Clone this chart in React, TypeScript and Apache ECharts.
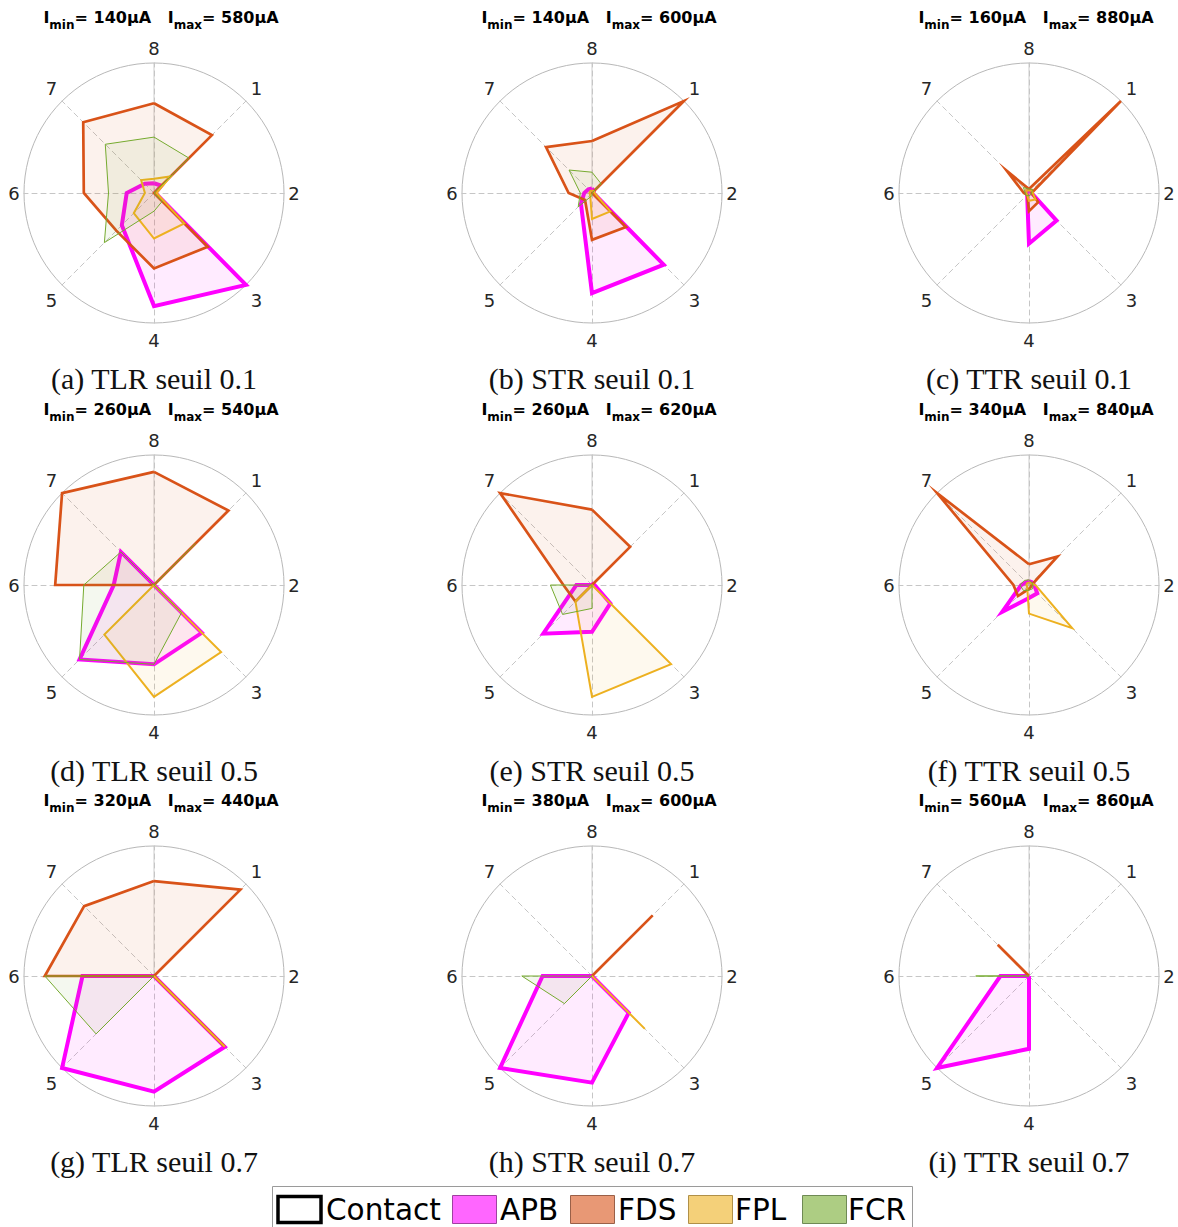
import React, { useEffect, useRef } from 'react';
import * as echarts from 'echarts';

// Axis labels (electrode positions) in natural order 1..8
const AXIS_LABELS = ['1', '2', '3', '4', '5', '6', '7', '8'];
// ECharts radar runs counter-clockwise from the top: 8, 7, 6, 5, 4, 3, 2, 1
const AXIS_ORDER = [7, 6, 5, 4, 3, 2, 1, 0];

const MUSCLES = ['APB', 'FDS', 'FPL', 'FCR'];
const MUSCLE_COLORS = ['#FF00FF', '#D95319', '#EDB120', '#77AC30'];
const MUSCLE_WIDTHS = [4, 2.7, 2, 1];

// Values on axes 1..8, rows = APB, FDS, FPL, FCR
const TLR_01 = [
  [0.08, 0.01, 1.0, 0.87, 0.35, 0.21, 0.1, 0.075],
  [0.63, 0.0, 0.585, 0.58, 0.41, 0.54, 0.77, 0.69],
  [0.18, 0.02, 0.33, 0.35, 0.22, 0.07, 0.14, 0.11],
  [0.38, 0.0, 0.09, 0.14, 0.54, 0.35, 0.53, 0.43],
];
const STR_01 = [
  [0.02, 0.01, 0.78, 0.77, 0.12, 0.06, 0.04, 0.035],
  [1.0, 0.0, 0.37, 0.36, 0.076, 0.18, 0.5, 0.4],
  [0.02, 0.02, 0.2, 0.2, 0.02, 0.02, 0.02, 0.02],
  [0.1, 0.0, 0.0, 0.02, 0.15, 0.09, 0.25, 0.16],
];
const TTR_01 = [
  [0.02, 0.02, 0.3, 0.39, 0.02, 0.02, 0.02, 0.02],
  [1.0, 0.02, 0.1, 0.14, 0.02, 0.04, 0.24, 0.03],
  [0.03, 0.03, 0.07, 0.06, 0.02, 0.02, 0.03, 0.02],
  [0.04, 0.02, 0.02, 0.02, 0.03, 0.03, 0.06, 0.03],
];
const TLR_05 = [
  [0.0, 0.0, 0.52, 0.61, 0.81, 0.31, 0.36, 0.0],
  [0.81, 0.0, 0.0, 0.0, 0.0, 0.76, 1.0, 0.87],
  [0.0, 0.0, 0.73, 0.86, 0.54, 0.0, 0.0, 0.0],
  [0.45, 0.0, 0.3, 0.61, 0.81, 0.54, 0.36, 0.0],
];
const STR_05 = [
  [0.01, 0.02, 0.2, 0.36, 0.53, 0.12, 0.0, 0.0],
  [0.415, 0.0, 0.0, 0.0, 0.18, 0.22, 1.0, 0.58],
  [0.0, 0.0, 0.86, 0.86, 0.18, 0.0, 0.0, 0.0],
  [0.0, 0.0, 0.0, 0.18, 0.32, 0.32, 0.0, 0.0],
];
const TTR_05 = [
  [0.03, 0.04, 0.09, 0.1, 0.29, 0.06, 0.03, 0.03],
  [0.31, 0.02, 0.02, 0.03, 0.12, 0.12, 1.0, 0.16],
  [0.02, 0.05, 0.47, 0.22, 0.02, 0.02, 0.02, 0.02],
  [0.03, 0.03, 0.04, 0.04, 0.06, 0.07, 0.05, 0.04],
];
const TLR_07 = [
  [0.0, 0.0, 0.77, 0.89, 1.0, 0.55, 0.0, 0.0],
  [0.94, 0.0, 0.77, 0.0, 0.0, 0.84, 0.76, 0.73],
  [0.0, 0.0, 0.77, 0.0, 0.0, 0.0, 0.0, 0.0],
  [0.0, 0.0, 0.0, 0.0, 0.63, 0.84, 0.0, 0.0],
];
const STR_07 = [
  [0.0, 0.0, 0.4, 0.82, 1.0, 0.38, 0.0, 0.0],
  [0.66, 0.0, 0.0, 0.0, 0.0, 0.0, 0.0, 0.0],
  [0.0, 0.0, 0.575, 0.0, 0.0, 0.0, 0.0, 0.0],
  [0.0, 0.0, 0.0, 0.0, 0.3, 0.54, 0.0, 0.0],
];
const TTR_07 = [
  [0.0, 0.0, 0.0, 0.56, 1.0, 0.22, 0.0, 0.0],
  [0.0, 0.0, 0.0, 0.0, 0.0, 0.0, 0.34, 0.0],
  [0.0, 0.0, 0.0, 0.0, 0.0, 0.0, 0.0, 0.0],
  [0.0, 0.0, 0.0, 0.0, 0.0, 0.41, 0.0, 0.0],
];

const PANELS = [TLR_01, STR_01, TTR_01, TLR_05, STR_05, TTR_05, TLR_07, STR_07, TTR_07];
const CAPTIONS = [
  '(a) TLR seuil 0.1', '(b) STR seuil 0.1', '(c) TTR seuil 0.1',
  '(d) TLR seuil 0.5', '(e) STR seuil 0.5', '(f) TTR seuil 0.5',
  '(g) TLR seuil 0.7', '(h) STR seuil 0.7', '(i) TTR seuil 0.7',
];
const I_MIN = [140, 140, 160, 260, 260, 340, 320, 380, 560];
const I_MAX = [580, 600, 880, 540, 620, 840, 440, 600, 860];

const LEGEND_NAMES = ['Contact', 'APB', 'FDS', 'FPL', 'FCR'];
const LEGEND_FILLS = ['#ffffff', '#FF66FF', '#E89875', '#F4D079', '#ADCD83'];
const LEGEND_STROKES = ['#000000', '#a040a0', '#9a6048', '#b09048', '#6f8a55'];

// layout
const COL_X = [154, 592, 1029];
const ROW_Y = [193, 585, 976];
const RADIUS = 130;
const LEGEND_SWATCH_X = [277, 452, 570, 688, 802];
const LEGEND_TEXT_X = [326, 500, 618, 735, 848];

// per-label nudges (padding: top, right, bottom, left)
const LABEL_PADDING: Record<string, number[]> = {
  '1': [0, 0, 4, 0],
  '2': [0, 10, 0, 0],
  '3': [9, 0, 0, 0],
  '4': [4, 0, 0, 0],
  '5': [9, 0, 0, 0],
  '6': [0, 0, 0, 10],
  '7': [0, 0, 4, 0],
  '8': [0, 0, 0, 0],
};

function buildOption() {
  const labelRich: Record<string, any> = {};
  AXIS_LABELS.forEach((l) => {
    labelRich['n' + l] = {
      fontSize: 18,
      fontFamily: 'DejaVu Sans',
      color: '#262626',
      padding: LABEL_PADDING[l],
    };
  });

  const radar = PANELS.map((_, k) => ({
    center: [COL_X[k % 3], ROW_Y[Math.floor(k / 3)]],
    radius: RADIUS,
    startAngle: 90,
    shape: 'circle',
    splitNumber: 1,
    indicator: AXIS_ORDER.map((i) => ({ name: AXIS_LABELS[i], min: 0, max: 1 })),
    nameGap: 15,
    axisName: {
      color: '#262626',
      fontSize: 18,
      fontFamily: 'DejaVu Sans',
      align: 'center',
      verticalAlign: 'middle',
      formatter: (name: string) => `{n${name}|${name}}`,
      rich: labelRich,
    },
    axisLine: { lineStyle: { color: '#c6c6c6', width: 1, type: [5, 4] } },
    splitLine: { lineStyle: { color: '#b8b8b8', width: 1 } },
    splitArea: { show: false },
    axisTick: { show: false },
    axisLabel: { show: false },
  }));

  const series = PANELS.map((panel, k) => ({
    type: 'radar',
    radarIndex: k,
    symbol: 'none',
    silent: true,
    data: panel.map((vals, m) => ({
      name: MUSCLES[m],
      value: AXIS_ORDER.map((i) => vals[i]),
      lineStyle: {
        color: MUSCLE_COLORS[m],
        width: MUSCLE_WIDTHS[m],
        join: 'miter',
        miterLimit: 20,
      },
      itemStyle: { color: MUSCLE_COLORS[m] },
      areaStyle: { color: MUSCLE_COLORS[m], opacity: 0.08 },
    })),
  }));

  const elements: any[] = [];
  PANELS.forEach((_, k) => {
    const cx = COL_X[k % 3];
    const cy = ROW_Y[Math.floor(k / 3)];
    // solid upper spoke (axis 8)
    elements.push({
      type: 'line',
      shape: { x1: cx, y1: cy - RADIUS, x2: cx, y2: cy },
      style: { stroke: '#cccccc', lineWidth: 1 },
      z: 0,
      silent: true,
    });
    elements.push({
      type: 'text',
      x: cx + 7,
      y: cy - 186,
      silent: true,
      style: {
        text: `{b|I}{s|min}{b|= ${I_MIN[k]}μA   I}{s|max}{b|= ${I_MAX[k]}μA}`,
        align: 'center',
        verticalAlign: 'top',
        fill: '#000',
        rich: {
          b: { fontFamily: 'DejaVu Sans', fontWeight: 'bold', fontSize: 16, lineHeight: 20, fill: '#000' },
          s: { fontFamily: 'DejaVu Sans', fontWeight: 'bold', fontSize: 12, lineHeight: 12, padding: [16, 0, 0, 0], fill: '#000' },
        },
      },
    });
    elements.push({
      type: 'text',
      x: cx,
      y: cy + 185,
      silent: true,
      style: {
        text: CAPTIONS[k],
        align: 'center',
        verticalAlign: 'middle',
        fontFamily: 'Liberation Serif',
        fontSize: 30,
        fill: '#111',
      },
    });
  });

  // legend box
  elements.push({
    type: 'rect',
    shape: { x: 272.5, y: 1186.5, width: 640, height: 60 },
    style: { fill: 'none', stroke: '#9a9a9a', lineWidth: 1 },
    silent: true,
  });
  LEGEND_NAMES.forEach((name, i) => {
    const thick = i === 0;
    elements.push({
      type: 'rect',
      shape: thick
        ? { x: LEGEND_SWATCH_X[i] + 1, y: 1196.5, width: 43, height: 26 }
        : { x: LEGEND_SWATCH_X[i] + 0.5, y: 1195.5, width: 44, height: 28 },
      style: { fill: LEGEND_FILLS[i], stroke: LEGEND_STROKES[i], lineWidth: thick ? 3.5 : 1 },
      silent: true,
    });
    elements.push({
      type: 'text',
      x: LEGEND_TEXT_X[i],
      y: 1210,
      silent: true,
      style: {
        text: name,
        align: 'left',
        verticalAlign: 'middle',
        fontFamily: 'DejaVu Sans',
        fontSize: 29.5,
        fill: '#000',
      },
    });
  });

  return {
    animation: false,
    backgroundColor: '#ffffff',
    radar,
    series,
    graphic: { elements },
  };
}

export default function App() {
  const ref = useRef<HTMLDivElement>(null);
  useEffect(() => {
    if (!ref.current) return;
    const chart = echarts.init(ref.current, undefined, { renderer: 'svg' });
    chart.setOption(buildOption() as any);
    return () => chart.dispose();
  }, []);
  return (
    <div
      ref={ref}
      style={{ position: 'absolute', left: 0, top: 0, width: 1178, height: 1227 }}
    />
  );
}
